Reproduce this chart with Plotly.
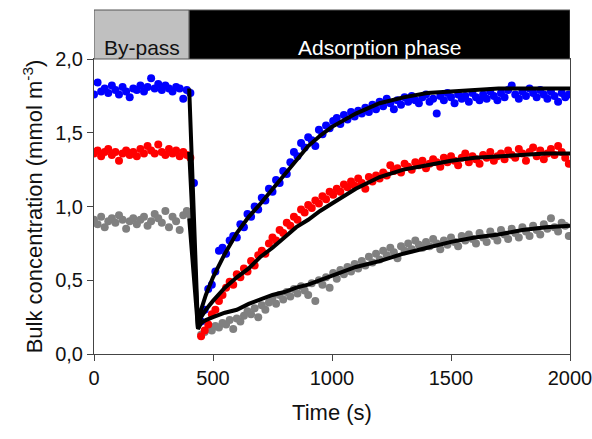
import plotly.graph_objects as go

# measured points, sampled every 15 s (None = no point visible)
blue_conc = [
    1.76, 1.84, 1.78, 1.80, 1.77, 1.82, 1.79, 1.76, 1.81, 1.78,
    1.74, 1.80, 1.79, 1.82, 1.78, 1.81, 1.87, 1.80, 1.83, 1.79,
    1.82, 1.80, 1.78, 1.81, 1.80, 1.73, 1.79, 1.77, 1.16, None,
    0.22, 0.30, 0.44, 0.47, 0.56, 0.70, 0.72, 0.68, 0.77, 0.80,
    0.79, 0.88, 0.86, 0.95, 0.93, 1.00, 0.98, 1.06, 1.04, 1.12,
    1.10, 1.18, 1.16, 1.24, 1.22, 1.30, 1.37, 1.34, 1.43, 1.40,
    1.47, 1.45, 1.41, 1.52, 1.49, 1.55, 1.53, 1.58, 1.60, 1.56,
    1.62, 1.59, 1.64, 1.61, 1.65, 1.63, 1.67, 1.64, 1.69, 1.66,
    1.71, 1.68, 1.73, 1.70, 1.66, 1.72, 1.69, 1.74, 1.71, 1.75,
    1.72, 1.70, 1.74, 1.76, 1.71, 1.73, 1.63, 1.75, 1.72, 1.77,
    1.74, 1.70, 1.76, 1.73, 1.75, 1.71, 1.77, 1.74, 1.72, 1.76,
    1.73, 1.78, 1.75, 1.72, 1.77, 1.74, 1.79, 1.82, 1.76, 1.73,
    1.78, 1.75, 1.80, 1.77, 1.74, 1.79, 1.76, 1.73, 1.78, 1.75,
    1.71, 1.77, 1.74, 1.76,
]
red_conc = [
    1.36, 1.38, 1.34, 1.37, 1.39, 1.35, 1.37, 1.31, 1.36, 1.38,
    1.35, 1.37, 1.34, 1.39, 1.36, 1.41, 1.38, 1.36, 1.42, 1.37,
    1.35, 1.39, 1.36, 1.38, 1.34, 1.37, 1.35, 1.33, None, None,
    0.12, 0.16, 0.20, 0.27, 0.30, 0.36, 0.40, 0.45, 0.49, 0.47,
    0.54, 0.52, 0.58, 0.56, 0.63, 0.60, 0.67, 0.70, 0.68, 0.75,
    0.79, 0.77, 0.84, 0.82, 0.89, 0.87, 0.93, 0.91, 0.98, 0.96,
    1.01, 0.99, 1.04, 1.02, 1.07, 1.05, 1.10, 1.08, 1.12, 1.10,
    1.15, 1.13, 1.17, 1.14, 1.19, 1.16, 1.12, 1.20, 1.17, 1.21,
    1.19, 1.23, 1.21, 1.28, 1.24, 1.26, 1.23, 1.29, 1.27, 1.25,
    1.30, 1.28, 1.31, 1.26, 1.29, 1.32, 1.30, 1.27, 1.33, 1.30,
    1.34, 1.31, 1.28, 1.33, 1.36, 1.30, 1.34, 1.32, 1.29, 1.35,
    1.33, 1.37, 1.31, 1.34, 1.36, 1.32, 1.38, 1.35, 1.33, 1.39,
    1.36, 1.31, 1.37, 1.40, 1.34, 1.38, 1.32, 1.36, 1.39, 1.35,
    1.41, 1.37, 1.33, 1.29,
]
grey_conc = [
    0.91, 0.88, 0.93, 0.86, 0.90, 0.92, 0.89, 0.94, 0.91, 0.85,
    0.90, 0.92, 0.88, 0.91, 0.93, 0.87, 0.90, 0.95, 0.92, 0.89,
    0.97, 0.86, 0.93, 0.90, 0.84, 0.94, 0.97, 0.94, None, None,
    0.13, 0.15, 0.17, 0.16, 0.19, 0.18, 0.21, 0.20, 0.23, 0.17,
    0.24, 0.22, 0.26, 0.29, 0.27, 0.31, 0.25, 0.33, 0.30, 0.35,
    0.38, 0.34, 0.40, 0.37, 0.42, 0.39, 0.44, 0.41, 0.46, 0.43,
    0.40, 0.48, 0.36, 0.50, 0.47, 0.52, 0.45, 0.55, 0.51, 0.57,
    0.54, 0.59, 0.56, 0.61, 0.58, 0.63, 0.60, 0.66, 0.62, 0.68,
    0.64, 0.70, 0.67, 0.72, 0.69, 0.65, 0.73, 0.70, 0.75, 0.71,
    0.77, 0.74, 0.72, 0.76, 0.73, 0.78, 0.75, 0.71, 0.77, 0.74,
    0.79, 0.76, 0.73, 0.80, 0.77, 0.81, 0.78, 0.75, 0.82, 0.79,
    0.76, 0.83, 0.80, 0.77, 0.84, 0.81, 0.78, 0.85, 0.82, 0.79,
    0.86, 0.83, 0.80, 0.87, 0.84, 0.81, 0.88, 0.85, 0.92, 0.86,
    0.83, 0.89, 0.87, 0.80,
]
time_pts = [15 * i for i in range(len(blue_conc))]

# model curves
fit_time = [400, 437, 450, 470, 500, 550, 600, 650, 700, 750, 800, 850, 900,
            950, 1000, 1100, 1200, 1300, 1400, 1500, 1600, 1700, 1800, 1900, 2000]
blue_fit = [1.80, 0.17, 0.30, 0.40, 0.52, 0.68, 0.82, 0.93, 1.02, 1.12, 1.22, 1.32, 1.41,
            1.48, 1.54, 1.63, 1.70, 1.74, 1.77, 1.78, 1.79, 1.80, 1.80, 1.80, 1.80]
red_fit = [1.37, 0.17, 0.25, 0.30, 0.36, 0.45, 0.52, 0.58, 0.66, 0.72, 0.79, 0.86, 0.91,
           0.97, 1.02, 1.12, 1.20, 1.25, 1.28, 1.31, 1.33, 1.34, 1.35, 1.36, 1.36]
grey_fit = [0.92, 0.17, 0.21, 0.23, 0.25, 0.28, 0.30, 0.34, 0.37, 0.40, 0.42, 0.45, 0.47,
            0.50, 0.53, 0.59, 0.63, 0.68, 0.72, 0.76, 0.79, 0.81, 0.84, 0.86, 0.87]

bypass_end = 400
t_max = 2000

FONT = "Arial, Liberation Sans, sans-serif"

fig = go.Figure()
for y, col in [(grey_conc, "#808080"), (red_conc, "#ff0000"), (blue_conc, "#0000ff")]:
    fig.add_trace(go.Scatter(x=time_pts, y=y, mode="markers",
                             marker=dict(color=col, size=8), showlegend=False))
for y in [blue_fit, red_fit, grey_fit]:
    fig.add_trace(go.Scatter(x=fit_time, y=y, mode="lines",
                             line=dict(color="black", width=4), showlegend=False))

# phase bar above plot
bar_top = 1 + 49 / 295
fig.add_shape(type="rect", xref="x", yref="paper", x0=0, x1=bypass_end, y0=1, y1=bar_top,
              fillcolor="#c0c0c0", line=dict(color="#555555", width=1))
fig.add_shape(type="rect", xref="x", yref="paper", x0=bypass_end, x1=t_max, y0=1, y1=bar_top,
              fillcolor="black", line=dict(color="#555555", width=1))
fig.add_annotation(x=bypass_end / 2, y=(1 + bar_top) / 2, xref="x", yref="paper",
                   text="By-pass", showarrow=False, font=dict(size=21, color="#111111", family=FONT))
fig.add_annotation(x=1200, y=(1 + bar_top) / 2, xref="x", yref="paper",
                   text="Adsorption phase", showarrow=False, font=dict(size=21, color="white", family=FONT))

fig.update_layout(
    width=592, height=439,
    margin=dict(l=94, r=22, t=59, b=85),
    paper_bgcolor="white", plot_bgcolor="white",
    separators=",.",
    font=dict(family=FONT, color="#111111"),
    xaxis=dict(range=[0, t_max], tickvals=[0, 500, 1000, 1500, 2000], automargin=False,
               ticklabeloverflow="allow",
               showline=True, linecolor="#444444", linewidth=1, mirror=True,
               ticks="outside", ticklen=6, tickcolor="#444444",
               showgrid=False, zeroline=False, tickfont=dict(size=20),
               title=dict(text="Time (s)", font=dict(size=22), standoff=16)),
    yaxis=dict(range=[0, 2.0], tickvals=[0, 0.5, 1.0, 1.5, 2.0], tickformat=".1f", automargin=False,
               ticklabeloverflow="allow",
               showline=True, linecolor="#444444", linewidth=1, mirror=True,
               ticks="outside", ticklen=6, tickcolor="#444444",
               showgrid=False, zeroline=False, tickfont=dict(size=20),
               title=dict(text="Bulk concentration (mmol m<sup>-3</sup>)", font=dict(size=22), standoff=6)),
)

fig.write_html("out.html", config={"displayModeBar": False},
               post_script="document.body.style.margin='0';")
